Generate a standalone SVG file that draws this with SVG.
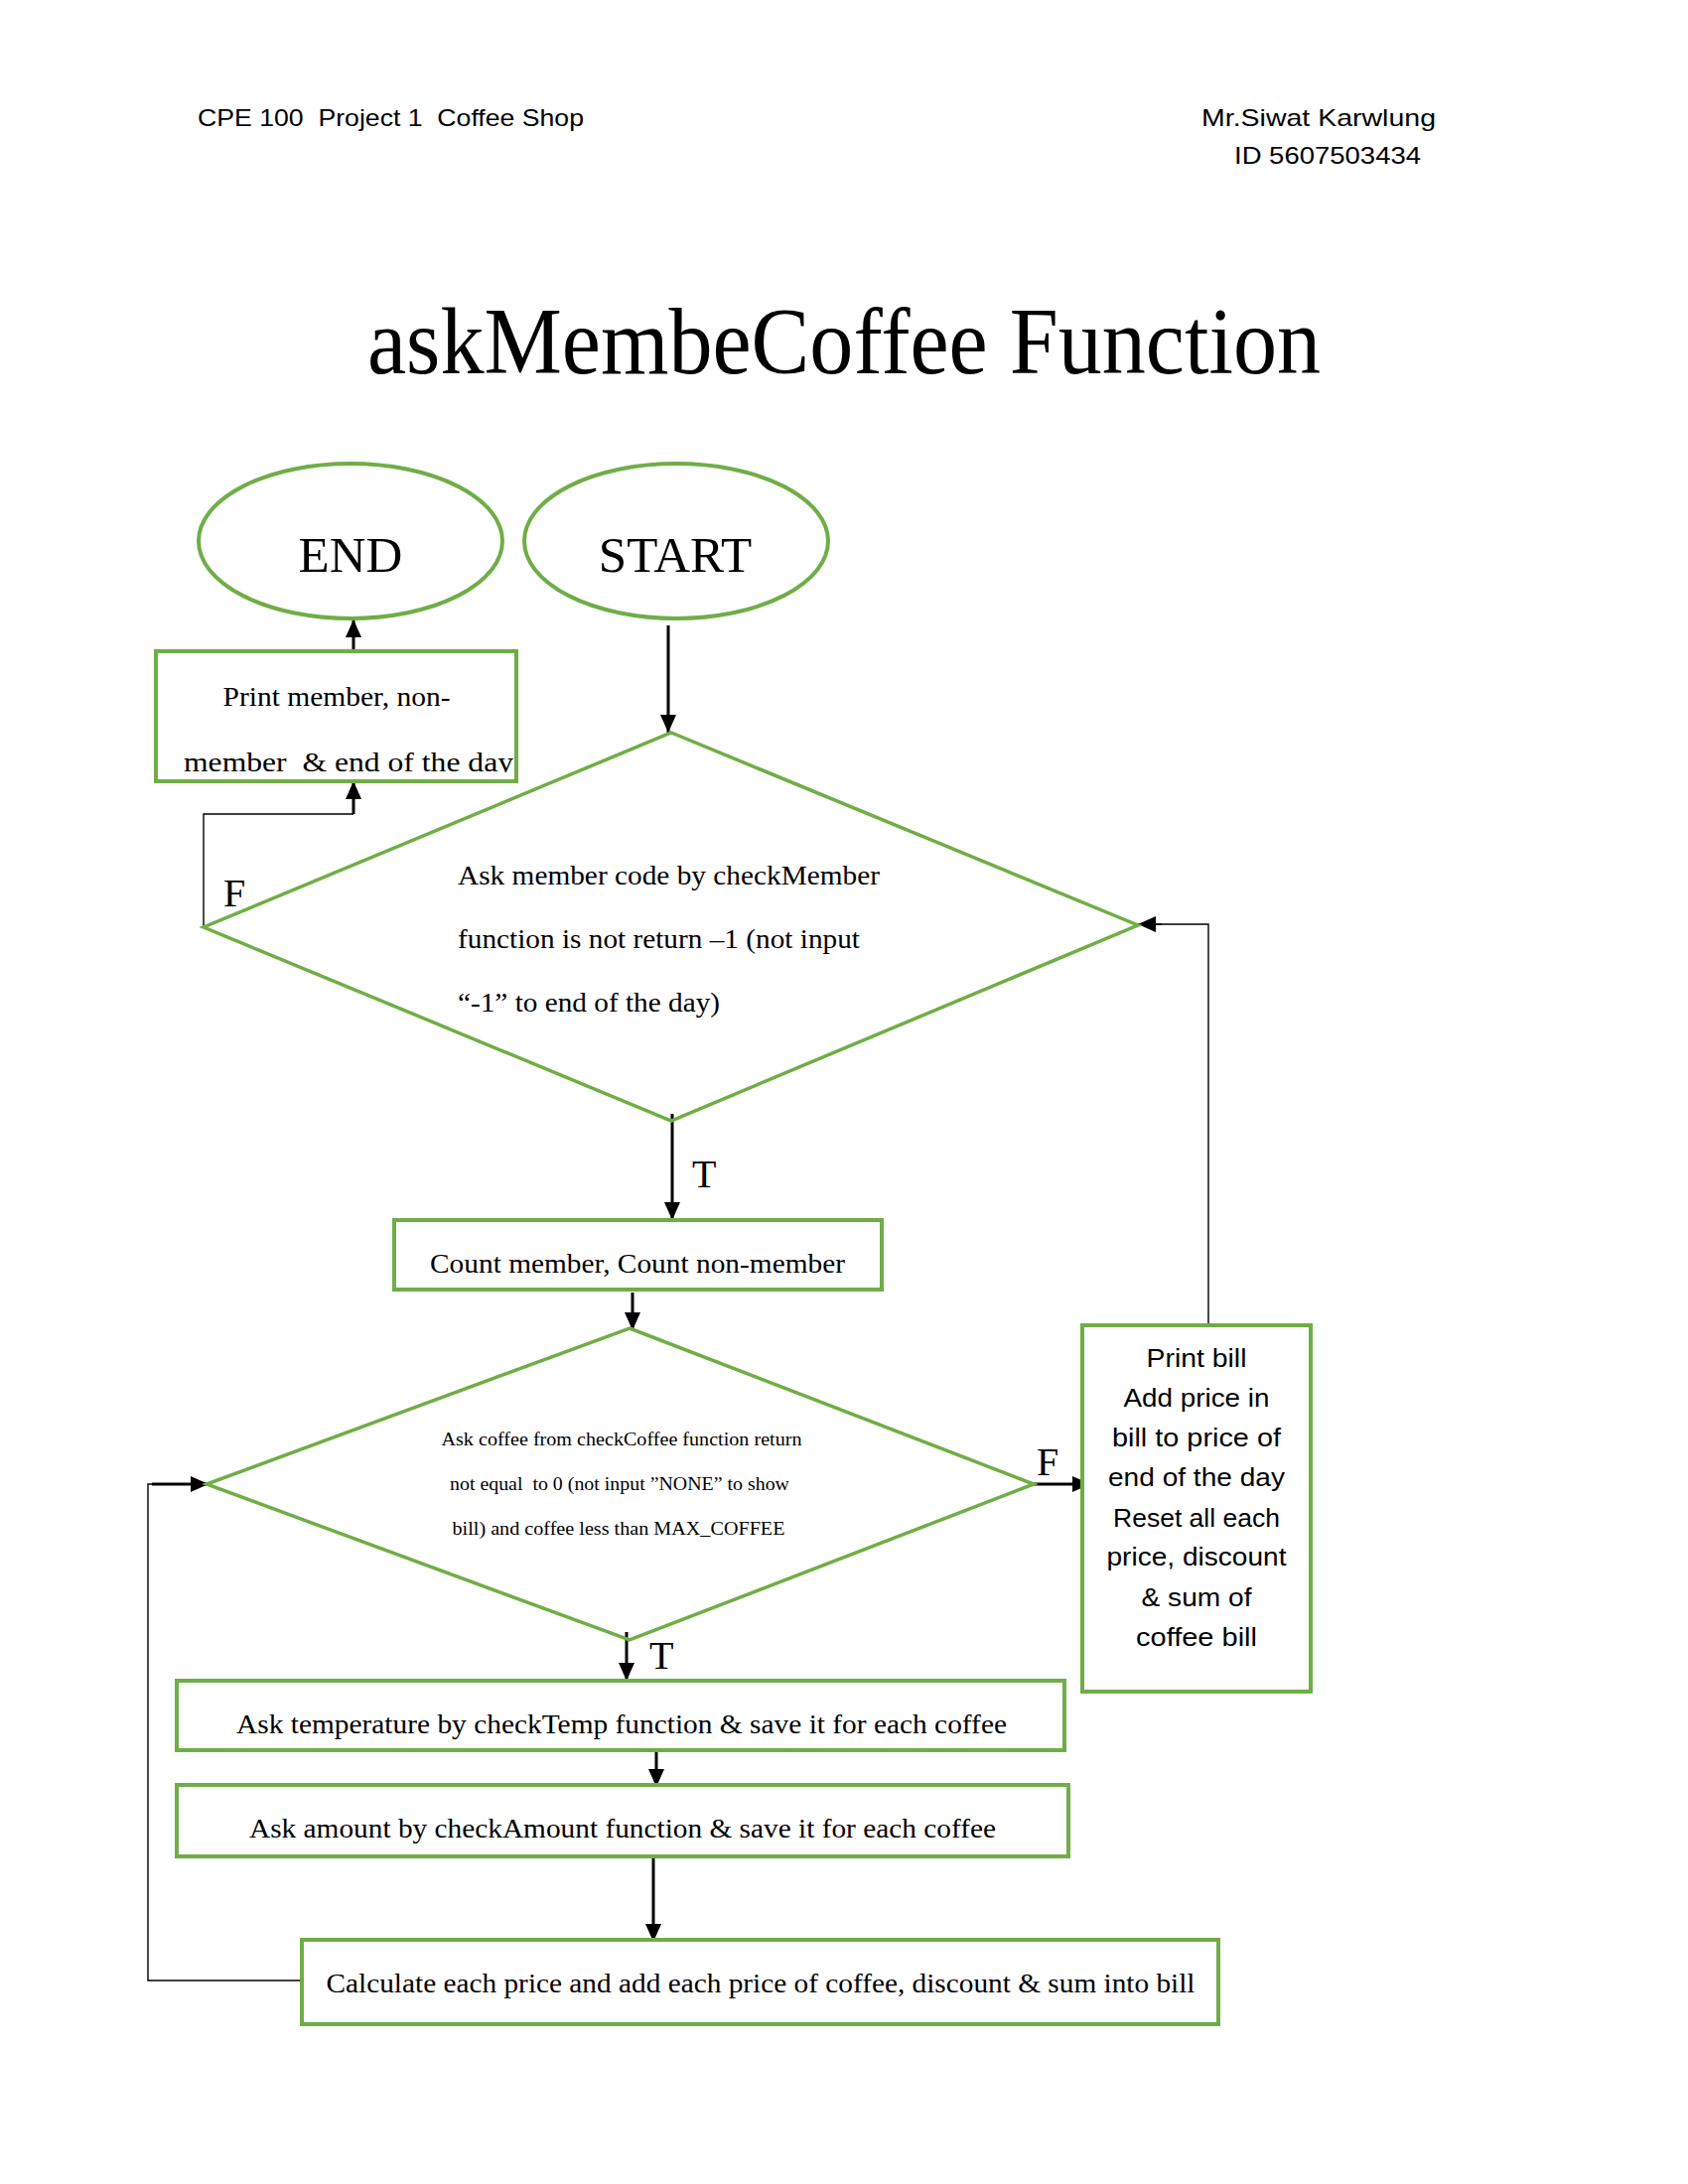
<svg xmlns="http://www.w3.org/2000/svg" width="1700" height="2200" viewBox="0 0 1700 2200">
<style>
text{white-space:pre}
.shape{fill:#fff;stroke:#70AD47;stroke-width:4}
.dia{fill:none;stroke:#70AD47;stroke-width:3.5}
.serif{font-family:"Liberation Serif","Times New Roman",serif;fill:#000}
.sans{font-family:"Liberation Sans",Arial,sans-serif;fill:#000}
.con{fill:none;stroke:#000;stroke-width:3}
.thin{fill:none;stroke:#000;stroke-width:1.4}
</style>
<defs>
<marker id="ah" viewBox="0 0 18 16" refX="18" refY="8" markerWidth="18" markerHeight="16" markerUnits="userSpaceOnUse" orient="auto">
<path d="M0,0 L18,8 L0,16 z" fill="#000"/>
</marker>
<clipPath id="printClip"><rect x="159" y="658" width="359" height="120"/></clipPath>
</defs>
<rect width="1700" height="2200" fill="#fff"/>
<g id="header">
<text class="sans" x="199" y="127" font-size="24" textLength="389" lengthAdjust="spacingAndGlyphs">CPE 100  Project 1  Coffee Shop</text>
<text class="sans" x="1210" y="127" font-size="24" textLength="236" lengthAdjust="spacingAndGlyphs">Mr.Siwat Karwlung</text>
<text class="sans" x="1243" y="165" font-size="24" textLength="188" lengthAdjust="spacingAndGlyphs">ID 5607503434</text>
</g>
<g id="title">
<text class="serif" x="370" y="376" font-size="96" textLength="960" lengthAdjust="spacingAndGlyphs">askMembeCoffee Function</text>
</g>
<g id="connectors">
<path class="con" d="M673,630 V738" marker-end="url(#ah)"/>
<path class="con" d="M356,656 V624" marker-end="url(#ah)"/>
<path class="thin" d="M205,934 V820 H356"/>
<path class="con" d="M356,820 V787" marker-end="url(#ah)"/>
<path class="con" d="M677,1122 V1229" marker-end="url(#ah)"/>
<path class="con" d="M637,1302 V1340" marker-end="url(#ah)"/>
<path class="con" d="M1041,1495 H1098" marker-end="url(#ah)"/>
<path class="con" d="M631,1644 V1693" marker-end="url(#ah)"/>
<path class="con" d="M661,1764 V1800" marker-end="url(#ah)"/>
<path class="con" d="M658,1871 V1956" marker-end="url(#ah)"/>
<path class="thin" d="M304,1995 H149 V1495 H156"/>
<path class="con" d="M153,1495 H210" marker-end="url(#ah)"/>
<path class="thin" d="M1217,1335 V931 H1160"/>
<path class="thin" d="M1170,931 H1146" marker-end="url(#ah)"/>
<text class="serif" x="225" y="913" font-size="40">F</text>
<text class="serif" x="697" y="1196" font-size="40">T</text>
<text class="serif" x="1044" y="1486" font-size="40">F</text>
<text class="serif" x="654" y="1681" font-size="40">T</text>
</g>
<g id="end">
<ellipse class="shape" cx="353" cy="545" rx="153" ry="78"/>
<text class="serif" x="353" y="576" font-size="51" text-anchor="middle">END</text>
</g>
<g id="start">
<ellipse class="shape" cx="681" cy="545" rx="153" ry="78"/>
<text class="serif" x="680" y="576" font-size="51" text-anchor="middle">START</text>
</g>
<g id="print-summary">
<rect class="shape" x="157" y="656" width="363" height="131"/>
<g clip-path="url(#printClip)">
<text class="serif" x="339" y="711" font-size="28" text-anchor="middle" textLength="229" lengthAdjust="spacingAndGlyphs">Print member, non-</text>
<text class="serif" x="351" y="777" font-size="28" text-anchor="middle" textLength="332" lengthAdjust="spacingAndGlyphs">member  &amp; end of the day</text>
</g>
</g>
<g id="ask-member">
<polygon class="dia" points="676,738 1146,932 676,1129 205,934"/>
<text class="serif" x="461" y="891" font-size="28" textLength="425" lengthAdjust="spacingAndGlyphs">Ask member code by checkMember</text>
<text class="serif" x="461" y="955" font-size="28" textLength="405" lengthAdjust="spacingAndGlyphs">function is not return –1 (not input</text>
<text class="serif" x="461" y="1019" font-size="28" textLength="264" lengthAdjust="spacingAndGlyphs">“-1” to end of the day)</text>
</g>
<g id="count">
<rect class="shape" x="397" y="1229" width="491" height="70"/>
<text class="serif" x="642" y="1282" font-size="28" text-anchor="middle" textLength="418" lengthAdjust="spacingAndGlyphs">Count member, Count non-member</text>
</g>
<g id="ask-coffee">
<polygon class="dia" points="634,1338 1041,1495 634,1652 208,1495"/>
<text class="serif" x="626" y="1456" font-size="19" text-anchor="middle" textLength="363" lengthAdjust="spacingAndGlyphs">Ask coffee from checkCoffee function return</text>
<text class="serif" x="624" y="1501" font-size="19" text-anchor="middle" textLength="342" lengthAdjust="spacingAndGlyphs">not equal  to 0 (not input ”NONE” to show</text>
<text class="serif" x="623" y="1546" font-size="19" text-anchor="middle" textLength="335" lengthAdjust="spacingAndGlyphs">bill) and coffee less than MAX_COFFEE</text>
</g>
<g id="print-bill">
<rect class="shape" x="1090" y="1335" width="230" height="369"/>
<text class="sans" x="1205" y="1377" font-size="26" text-anchor="middle" textLength="101" lengthAdjust="spacingAndGlyphs">Print bill</text>
<text class="sans" x="1205" y="1417" font-size="26" text-anchor="middle" textLength="147" lengthAdjust="spacingAndGlyphs">Add price in</text>
<text class="sans" x="1205" y="1457" font-size="26" text-anchor="middle" textLength="170" lengthAdjust="spacingAndGlyphs">bill to price of</text>
<text class="sans" x="1205" y="1497" font-size="26" text-anchor="middle" textLength="178" lengthAdjust="spacingAndGlyphs">end of the day</text>
<text class="sans" x="1205" y="1538" font-size="26" text-anchor="middle" textLength="168" lengthAdjust="spacingAndGlyphs">Reset all each</text>
<text class="sans" x="1205" y="1577" font-size="26" text-anchor="middle" textLength="181" lengthAdjust="spacingAndGlyphs">price, discount</text>
<text class="sans" x="1205" y="1618" font-size="26" text-anchor="middle" textLength="111" lengthAdjust="spacingAndGlyphs">&amp; sum of</text>
<text class="sans" x="1205" y="1658" font-size="26" text-anchor="middle" textLength="122" lengthAdjust="spacingAndGlyphs">coffee bill</text>
</g>
<g id="ask-temp">
<rect class="shape" x="178" y="1693" width="894" height="70"/>
<text class="serif" x="626" y="1746" font-size="28" text-anchor="middle" textLength="776" lengthAdjust="spacingAndGlyphs">Ask temperature by checkTemp function &amp; save it for each coffee</text>
</g>
<g id="ask-amount">
<rect class="shape" x="178" y="1798" width="898" height="72"/>
<text class="serif" x="627" y="1851" font-size="28" text-anchor="middle" textLength="752" lengthAdjust="spacingAndGlyphs">Ask amount by checkAmount function &amp; save it for each coffee</text>
</g>
<g id="calculate">
<rect class="shape" x="304" y="1954" width="923" height="85"/>
<text class="serif" x="766" y="2007" font-size="28" text-anchor="middle" textLength="875" lengthAdjust="spacingAndGlyphs">Calculate each price and add each price of coffee, discount &amp; sum into bill</text>
</g>
</svg>
